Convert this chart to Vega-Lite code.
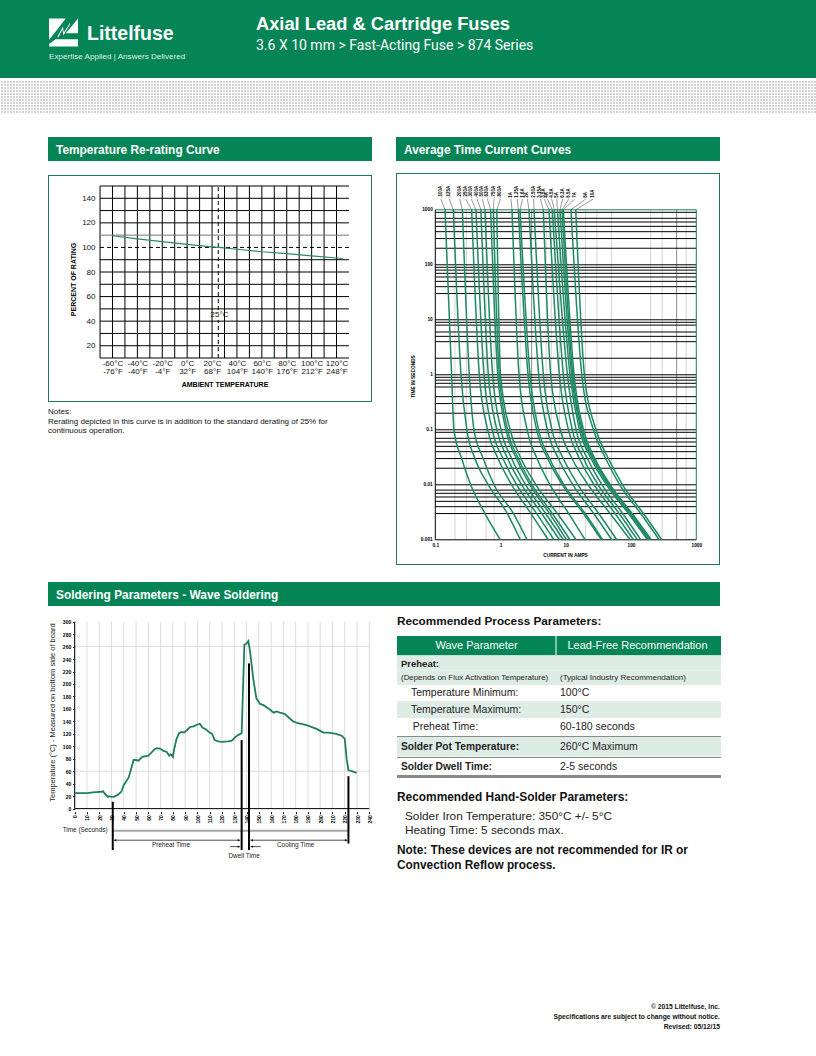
{
"$schema":"https://vega.github.io/schema/vega-lite/v6.json",
"padding":0,"background":"white",
"config":{"view":{"stroke":null},"font":"Liberation Sans","text":{"font":"Liberation Sans"}},
"datasets":{
"curves":[
{"fuse":".100A","t":1000,"amps":0.141},{"fuse":".100A","t":1,"amps":0.178},{"fuse":".100A","t":0.1,"amps":0.193},{"fuse":".100A","t":0.03,"amps":0.2535},{"fuse":".100A","t":0.01,"amps":0.3485},{"fuse":".100A","t":0.003,"amps":0.5775},{"fuse":".100A","t":0.001,"amps":0.993},
{"fuse":".125A","t":1000,"amps":0.189},{"fuse":".125A","t":1,"amps":0.2476},{"fuse":".125A","t":0.1,"amps":0.305},{"fuse":".125A","t":0.03,"amps":0.4055},{"fuse":".125A","t":0.01,"amps":0.65},{"fuse":".125A","t":0.003,"amps":1.27},{"fuse":".125A","t":0.001,"amps":2.01},
{"fuse":".200A","t":1000,"amps":0.26},{"fuse":".200A","t":1,"amps":0.332},{"fuse":".200A","t":0.1,"amps":0.392},{"fuse":".200A","t":0.03,"amps":0.543},{"fuse":".200A","t":0.01,"amps":0.794},{"fuse":".200A","t":0.003,"amps":1.58},{"fuse":".200A","t":0.001,"amps":2.55},
{"fuse":".250A","t":1000,"amps":0.361},{"fuse":".250A","t":1,"amps":0.473},{"fuse":".250A","t":0.1,"amps":0.634},{"fuse":".250A","t":0.03,"amps":0.915},{"fuse":".250A","t":0.01,"amps":1.48},{"fuse":".250A","t":0.003,"amps":2.93},{"fuse":".250A","t":0.001,"amps":5.4},
{"fuse":".300A","t":1000,"amps":0.42},{"fuse":".300A","t":1,"amps":0.558},{"fuse":".300A","t":0.1,"amps":0.747},{"fuse":".300A","t":0.03,"amps":1.09},{"fuse":".300A","t":0.01,"amps":1.77},{"fuse":".300A","t":0.003,"amps":3.58},{"fuse":".300A","t":0.001,"amps":6.6},
{"fuse":".400A","t":1000,"amps":0.5},{"fuse":".400A","t":1,"amps":0.65},{"fuse":".400A","t":0.1,"amps":0.88},{"fuse":".400A","t":0.03,"amps":1.285},{"fuse":".400A","t":0.01,"amps":2.11},{"fuse":".400A","t":0.003,"amps":4.27},{"fuse":".400A","t":0.001,"amps":7.97},
{"fuse":".500A","t":1000,"amps":0.577},{"fuse":".500A","t":1,"amps":0.757},{"fuse":".500A","t":0.1,"amps":1.017},{"fuse":".500A","t":0.03,"amps":1.48},{"fuse":".500A","t":0.01,"amps":2.43},{"fuse":".500A","t":0.003,"amps":4.92},{"fuse":".500A","t":0.001,"amps":9.18},
{"fuse":".630A","t":1000,"amps":0.706},{"fuse":".630A","t":1,"amps":0.907},{"fuse":".630A","t":0.1,"amps":1.21},{"fuse":".630A","t":0.03,"amps":1.75},{"fuse":".630A","t":0.01,"amps":2.83},{"fuse":".630A","t":0.003,"amps":5.65},{"fuse":".630A","t":0.001,"amps":10.3},
{"fuse":".750A","t":1000,"amps":0.775},{"fuse":".750A","t":1,"amps":0.957},{"fuse":".750A","t":0.1,"amps":1.285},{"fuse":".750A","t":0.03,"amps":1.875},{"fuse":".750A","t":0.01,"amps":3.04},{"fuse":".750A","t":0.003,"amps":6.22},{"fuse":".750A","t":0.001,"amps":11.6},
{"fuse":".800A","t":1000,"amps":0.875},{"fuse":".800A","t":1,"amps":1.0},{"fuse":".800A","t":0.1,"amps":1.4},{"fuse":".800A","t":0.03,"amps":2.06},{"fuse":".800A","t":0.01,"amps":3.49},{"fuse":".800A","t":0.003,"amps":7.43},{"fuse":".800A","t":0.001,"amps":14.4},
{"fuse":"1A","t":1000,"amps":1.5},{"fuse":"1A","t":1,"amps":1.92},{"fuse":"1A","t":0.1,"amps":2.55},{"fuse":"1A","t":0.03,"amps":3.63},{"fuse":"1A","t":0.01,"amps":5.73},{"fuse":"1A","t":0.003,"amps":11.1},{"fuse":"1A","t":0.001,"amps":19.8},
{"fuse":"1.25A","t":1000,"amps":1.875},{"fuse":"1.25A","t":1,"amps":2.64},{"fuse":"1.25A","t":0.1,"amps":3.58},{"fuse":"1.25A","t":0.03,"amps":5.27},{"fuse":"1.25A","t":0.01,"amps":8.87},{"fuse":"1.25A","t":0.003,"amps":18.7},{"fuse":"1.25A","t":0.001,"amps":35.2},
{"fuse":"1.6A","t":1000,"amps":1.99},{"fuse":"1.6A","t":1,"amps":2.83},{"fuse":"1.6A","t":0.1,"amps":3.84},{"fuse":"1.6A","t":0.03,"amps":5.65},{"fuse":"1.6A","t":0.01,"amps":9.4},{"fuse":"1.6A","t":0.003,"amps":19.8},{"fuse":"1.6A","t":0.001,"amps":36.9},
{"fuse":"2A","t":1000,"amps":2.73},{"fuse":"2A","t":1,"amps":3.84},{"fuse":"2A","t":0.1,"amps":5.22},{"fuse":"2A","t":0.03,"amps":7.7},{"fuse":"2A","t":0.01,"amps":12.9},{"fuse":"2A","t":0.003,"amps":26.8},{"fuse":"2A","t":0.001,"amps":50.7},
{"fuse":"2.50A","t":1000,"amps":3.26},{"fuse":"2.50A","t":1,"amps":4.53},{"fuse":"2.50A","t":0.1,"amps":6.15},{"fuse":"2.50A","t":0.03,"amps":9.18},{"fuse":"2.50A","t":0.01,"amps":15.4},{"fuse":"2.50A","t":0.003,"amps":32},{"fuse":"2.50A","t":0.001,"amps":60.4},
{"fuse":"3.15A","t":1000,"amps":4.53},{"fuse":"3.15A","t":1,"amps":5.87},{"fuse":"3.15A","t":0.1,"amps":8.25},{"fuse":"3.15A","t":0.03,"amps":12.47},{"fuse":"3.15A","t":0.01,"amps":22},{"fuse":"3.15A","t":0.003,"amps":47.8},{"fuse":"3.15A","t":0.001,"amps":97},
{"fuse":"3.5A","t":1000,"amps":5.53},{"fuse":"3.5A","t":1,"amps":7.97},{"fuse":"3.5A","t":0.1,"amps":10.97},{"fuse":"3.5A","t":0.03,"amps":16.2},{"fuse":"3.5A","t":0.01,"amps":27.2},{"fuse":"3.5A","t":0.003,"amps":57},{"fuse":"3.5A","t":0.001,"amps":109},
{"fuse":"4A","t":1000,"amps":6.22},{"fuse":"4A","t":1,"amps":9.18},{"fuse":"4A","t":0.1,"amps":12.6},{"fuse":"4A","t":0.03,"amps":18.7},{"fuse":"4A","t":0.01,"amps":31.3},{"fuse":"4A","t":0.003,"amps":65.7},{"fuse":"4A","t":0.001,"amps":125},
{"fuse":"4.5A","t":1000,"amps":6.68},{"fuse":"4.5A","t":1,"amps":10.6},{"fuse":"4.5A","t":0.1,"amps":14.4},{"fuse":"4.5A","t":0.03,"amps":21.5},{"fuse":"4.5A","t":0.01,"amps":36},{"fuse":"4.5A","t":0.003,"amps":74.6},{"fuse":"4.5A","t":0.001,"amps":141},
{"fuse":"5A","t":1000,"amps":7.43},{"fuse":"5A","t":1,"amps":11.6},{"fuse":"5A","t":0.1,"amps":16.2},{"fuse":"5A","t":0.03,"amps":24.4},{"fuse":"5A","t":0.01,"amps":42},{"fuse":"5A","t":0.003,"amps":91.3},{"fuse":"5A","t":0.001,"amps":179},
{"fuse":"6.3A","t":1000,"amps":8.15},{"fuse":"6.3A","t":1,"amps":12.3},{"fuse":"6.3A","t":0.1,"amps":17.2},{"fuse":"6.3A","t":0.03,"amps":25.9},{"fuse":"6.3A","t":0.01,"amps":44.5},{"fuse":"6.3A","t":0.003,"amps":96},{"fuse":"6.3A","t":0.001,"amps":187},
{"fuse":"6.5A","t":1000,"amps":8.76},{"fuse":"6.5A","t":1,"amps":12.8},{"fuse":"6.5A","t":0.1,"amps":17.8},{"fuse":"6.5A","t":0.03,"amps":26.8},{"fuse":"6.5A","t":0.01,"amps":46.6},{"fuse":"6.5A","t":0.003,"amps":101},{"fuse":"6.5A","t":0.001,"amps":197},
{"fuse":"7A","t":1000,"amps":9.18},{"fuse":"7A","t":1,"amps":13.4},{"fuse":"7A","t":0.1,"amps":18.7},{"fuse":"7A","t":0.03,"amps":28},{"fuse":"7A","t":0.01,"amps":48.1},{"fuse":"7A","t":0.003,"amps":104},{"fuse":"7A","t":0.001,"amps":204},
{"fuse":"8A","t":1000,"amps":12},{"fuse":"8A","t":1,"amps":17.6},{"fuse":"8A","t":0.1,"amps":26.5},{"fuse":"8A","t":0.03,"amps":40.9},{"fuse":"8A","t":0.01,"amps":67},{"fuse":"8A","t":0.003,"amps":141},{"fuse":"8A","t":0.001,"amps":270},
{"fuse":"10A","t":1000,"amps":14.2},{"fuse":"10A","t":1,"amps":19.3},{"fuse":"10A","t":0.1,"amps":29},{"fuse":"10A","t":0.03,"amps":45},{"fuse":"10A","t":0.01,"amps":74},{"fuse":"10A","t":0.003,"amps":155},{"fuse":"10A","t":0.001,"amps":296}
],
"fuseLabels":[
{"fuse":".100A","label_at":0.1215,"curve_top":0.141},{"fuse":".125A","label_at":0.164,"curve_top":0.189},{"fuse":".200A","label_at":0.237,"curve_top":0.26},{"fuse":".250A","label_at":0.292,"curve_top":0.361},{"fuse":".300A","label_at":0.357,"curve_top":0.42},{"fuse":".400A","label_at":0.436,"curve_top":0.5},{"fuse":".500A","label_at":0.526,"curve_top":0.577},{"fuse":".630A","label_at":0.63,"curve_top":0.706},{"fuse":".750A","label_at":0.795,"curve_top":0.775},{"fuse":".800A","label_at":0.993,"curve_top":0.875},{"fuse":"1A","label_at":1.445,"curve_top":1.5},{"fuse":"1.25A","label_at":1.8,"curve_top":1.875},{"fuse":"1.6A","label_at":2.18,"curve_top":1.99},{"fuse":"2A","label_at":2.58,"curve_top":2.73},{"fuse":"2.50A","label_at":3.22,"curve_top":3.26},{"fuse":"3.15A","label_at":4.08,"curve_top":4.53},{"fuse":"3.5A","label_at":4.66,"curve_top":5.53},{"fuse":"4A","label_at":5.22,"curve_top":6.22},{"fuse":"4.5A","label_at":6.08,"curve_top":6.68},{"fuse":"5A","label_at":7.27,"curve_top":7.43},{"fuse":"6.3A","label_at":8.98,"curve_top":8.15},{"fuse":"6.5A","label_at":11.09,"curve_top":8.76},{"fuse":"7A","label_at":13.7,"curve_top":9.18},{"fuse":"8A","label_at":20.2,"curve_top":12},{"fuse":"10A","label_at":26.4,"curve_top":14.2}
],
"solder":[
{"sec":0,"temp":25},{"sec":10,"temp":25},{"sec":15,"temp":26},{"sec":20,"temp":27},{"sec":22,"temp":27},{"sec":23,"temp":28},{"sec":25,"temp":23},{"sec":27,"temp":19},{"sec":28,"temp":20},{"sec":30,"temp":19},{"sec":32,"temp":19},{"sec":35,"temp":22},{"sec":38,"temp":27},{"sec":40,"temp":38},{"sec":44,"temp":50},{"sec":48,"temp":78},{"sec":50,"temp":78},{"sec":52,"temp":77},{"sec":55,"temp":83},{"sec":60,"temp":85},{"sec":65,"temp":95},{"sec":67,"temp":97},{"sec":70,"temp":96},{"sec":72,"temp":93},{"sec":75,"temp":91},{"sec":77,"temp":85},{"sec":78,"temp":87},{"sec":79,"temp":86},{"sec":80,"temp":83},{"sec":81,"temp":95},{"sec":83,"temp":112},{"sec":85,"temp":121},{"sec":87,"temp":123},{"sec":89,"temp":122},{"sec":92,"temp":127},{"sec":94,"temp":131},{"sec":97,"temp":132},{"sec":100,"temp":135},{"sec":102,"temp":136},{"sec":104,"temp":130},{"sec":107,"temp":127},{"sec":110,"temp":122},{"sec":112,"temp":120},{"sec":114,"temp":110},{"sec":117,"temp":108},{"sec":120,"temp":107},{"sec":125,"temp":108},{"sec":128,"temp":109},{"sec":131,"temp":115},{"sec":133,"temp":118},{"sec":135,"temp":120},{"sec":136,"temp":121},{"sec":137.4,"temp":208},{"sec":138.2,"temp":263},{"sec":140,"temp":265},{"sec":141.5,"temp":269},{"sec":142.8,"temp":253},{"sec":145.5,"temp":208},{"sec":148,"temp":177},{"sec":151,"temp":168},{"sec":153.7,"temp":166},{"sec":156,"temp":163},{"sec":159,"temp":159},{"sec":162,"temp":154},{"sec":164.5,"temp":156},{"sec":167,"temp":154},{"sec":171,"temp":152},{"sec":175,"temp":145},{"sec":178,"temp":140},{"sec":182,"temp":137},{"sec":189,"temp":134},{"sec":197,"temp":128},{"sec":202.6,"temp":122},{"sec":206.6,"temp":122},{"sec":213,"temp":120},{"sec":217.5,"temp":117},{"sec":220,"temp":112},{"sec":221.6,"temp":79},{"sec":223,"temp":62},{"sec":225.6,"temp":60},{"sec":229.7,"temp":57.5}
]
},
"spacing":0,
"vconcat":[
{"spacing":0,"hconcat":[
 {"width":256,"height":78,"view":{"fill":"#058555","stroke":null},"data":{"values":[{"logo":"mark","tagline":"Expertise Applied  |  Answers Delivered","name":"Littelfuse"}]},
  "layer":[
  {"mark":{"type":"point","filled":true,"fill":"white","stroke":null,"opacity":1,"size":841,"shape":"M-1 -.966L.16 -.966L-1 .51Z M1 -.966L1 .057L.16 .057Z M-.55 .47L1 .47L1 .966L-1 .966L-1 .8Z M-.42 .3L-.04 -.42L.02 .0L.44 -.66L.46 -.58L-.01 .2L-.07 -.2L-.36 .34Z"},
   "encoding":{"x":{"datum":63.5,"type":"quantitative","scale":{"domain":[0,256],"nice":false,"zero":false},"axis":null},"y":{"datum":32.5,"type":"quantitative","scale":{"domain":[78,0],"nice":false,"zero":false},"axis":null}}},
  {"mark":{"type":"text","align":"left","baseline":"middle","fontWeight":"bold","fontSize":19.5,"fill":"white"},
   "encoding":{"x":{"datum":87,"type":"quantitative"},"y":{"datum":34,"type":"quantitative"},"text":{"field":"name"}}},
  {"mark":{"type":"text","align":"left","baseline":"middle","fontSize":8.1,"fill":"#dff0e8"},
   "encoding":{"x":{"datum":49,"type":"quantitative"},"y":{"datum":57,"type":"quantitative"},"text":{"field":"tagline"}}}
  ]},
 {"width":560,"height":78,"view":{"fill":"#058555","stroke":null},"data":{"values":[{"title":"Axial Lead & Cartridge Fuses","sub":"3.6 X 10 mm > Fast-Acting Fuse > 874 Series"}]},
  "layer":[
  {"mark":{"type":"text","align":"left","baseline":"middle","fontSize":18.3,"fontWeight":"bold","fill":"white"},
   "encoding":{"x":{"datum":0,"type":"quantitative","scale":{"domain":[0,560],"nice":false,"zero":false},"axis":null},"y":{"datum":25,"type":"quantitative","scale":{"domain":[78,0],"nice":false,"zero":false},"axis":null},"text":{"field":"title"}}},
  {"mark":{"type":"text","align":"left","baseline":"middle","fontSize":14,"font":"Roboto","fill":"white"},
   "encoding":{"x":{"datum":0,"type":"quantitative"},"y":{"datum":46,"type":"quantitative"},"text":{"field":"sub"}}}
  ]}
]},
{"width":816,"height":2,"data":{"values":[]},"mark":{"type":"rect"},"encoding":{}},
{"width":816,"height":33,"view":{"fill":"#d2d2d2","stroke":null},"data":{"values":[]},"mark":{"type":"point"},
 "encoding":{
  "x":{"field":"a","type":"quantitative","scale":{"domain":[0,272],"nice":false,"zero":false},"axis":{"grid":true,"tickCount":272,"labels":false,"ticks":false,"domain":false,"title":null,"gridColor":"white","gridOpacity":1,"gridWidth":1}},
  "y":{"field":"b","type":"quantitative","scale":{"domain":[0,11],"nice":false,"zero":false},"axis":{"grid":true,"tickCount":11,"labels":false,"ticks":false,"domain":false,"title":null,"gridColor":"white","gridOpacity":1,"gridWidth":1}}}},
{"width":816,"height":24,"data":{"values":[]},"mark":{"type":"rect"},"encoding":{}},
{"spacing":0,"hconcat":[
 {"width":48,"height":1,"data":{"values":[]},"mark":{"type":"rect"},"encoding":{}},
 {"spacing":0,"vconcat":[
  {"width":324,"height":24,"view":{"fill":"#058555","stroke":null},"data":{"values":[{"h":"Temperature Re-rating Curve"}]},
   "mark":{"type":"text","align":"left","fontSize":11.9,"fontWeight":"bold","fill":"white","dy":1},
   "encoding":{"x":{"datum":8,"type":"quantitative","scale":{"domain":[0,324],"nice":false,"zero":false},"axis":null},"text":{"field":"h"}}},
  {"width":324,"height":14,"data":{"values":[]},"mark":{"type":"rect"},"encoding":{}},
  {"width":324,"height":227,
   "resolve":{"axis":{"x":"independent","y":"independent"}},
   "layer":[
   {"data":{"values":[{"pct":10},{"pct":20},{"pct":30},{"pct":40},{"pct":50},{"pct":60},{"pct":70},{"pct":80},{"pct":90},{"pct":120},{"pct":130},{"pct":140},{"pct":150}]},
    "mark":{"type":"rule","stroke":"black","strokeWidth":1},
    "encoding":{
     "y":{"field":"pct","type":"quantitative","scale":{"domain":[-25.8,158.95],"nice":false,"zero":false},
      "axis":{"values":[20,40,60,80,100,120,140],"offset":-52,"domain":false,"ticks":false,"grid":false,"labelFontSize":8,"labelColor":"#111","labelPadding":5,"labelOverlap":false,"labelFlush":false,"title":"PERCENT OF RATING","titleFontSize":7,"titleFontWeight":"bold","titleColor":"black","titleX":-24,"titleY":104}},
     "x":{"datum":-70,"type":"quantitative","scale":{"domain":[-111.8,148.5],"nice":false,"zero":false},
      "axis":{"values":[-60,-40,-20,0,20,40,60,80,100,120],"offset":-44,"domain":false,"ticks":false,"grid":false,"labelFontSize":8,"labelColor":"#111","labelPadding":1,"labelLineHeight":8.5,"labelExpr":"[datum.value+'°C',round(datum.value*1.8+32)+'°F']","title":"AMBIENT TEMPERATURE","titleFontSize":7,"titleFontWeight":"bold","titleColor":"black","titleX":176.5,"titleY":22,"labelFlush":false,"labelOverlap":false}},
     "x2":{"datum":130}}},
   {"data":{"values":[{"l":-111.8,"r":-111,"b":-25.8,"top":158.95},{"l":147.7,"r":148.5,"b":-25.8,"top":158.95},{"l":-111.8,"r":148.5,"b":-25.8,"top":-25},{"l":-111.8,"r":148.5,"b":158.15,"top":158.95}]},"mark":{"type":"rect","fill":"#1f7a5c","stroke":null},
    "encoding":{"x":{"field":"l","type":"quantitative","axis":null},"x2":{"field":"r"},"y":{"field":"b","type":"quantitative","axis":null},"y2":{"field":"top"}}},
   {"data":{"values":[{"deg":-70},{"deg":-60},{"deg":-50},{"deg":-40},{"deg":-30},{"deg":-20},{"deg":-10},{"deg":0},{"deg":10},{"deg":20},{"deg":30},{"deg":40},{"deg":50},{"deg":60},{"deg":70},{"deg":80},{"deg":90},{"deg":100},{"deg":110},{"deg":120}]},
    "mark":{"type":"rule","stroke":"black","strokeWidth":1},
    "encoding":{"x":{"field":"deg","type":"quantitative","axis":null},"y":{"datum":10,"type":"quantitative","axis":null},"y2":{"datum":150}}},
   {"data":{"values":[{"pct":110}]},"mark":{"type":"rule","stroke":"#777777","strokeWidth":1},
    "encoding":{"y":{"field":"pct","type":"quantitative","axis":null},"x":{"datum":-70,"type":"quantitative","axis":null},"x2":{"datum":130}}},
   {"data":{"values":[{"pct":100}]},"mark":{"type":"rule","stroke":"black","strokeWidth":1,"strokeDash":[4,3]},
    "encoding":{"y":{"field":"pct","type":"quantitative","axis":null},"x":{"datum":-70,"type":"quantitative","axis":null},"x2":{"datum":130}}},
   {"data":{"values":[{"deg":25,"low":10,"high":41},{"deg":25,"low":49,"high":150}]},"mark":{"type":"rule","stroke":"black","strokeWidth":1,"strokeDash":[4,3]},
    "encoding":{"x":{"field":"deg","type":"quantitative","axis":null},"y":{"field":"low","type":"quantitative","axis":null},"y2":{"field":"high"}}},
   {"data":{"values":[{"deg":-60,"pct":109.5},{"deg":-40,"pct":107},{"deg":-20,"pct":104.7},{"deg":0,"pct":102.5},{"deg":20,"pct":100.5},{"deg":25,"pct":100},{"deg":40,"pct":98.5},{"deg":60,"pct":96.5},{"deg":80,"pct":95},{"deg":100,"pct":93.2},{"deg":125,"pct":91}]},
    "mark":{"type":"line","stroke":"#2a8a68","strokeWidth":1.2},
    "encoding":{"x":{"field":"deg","type":"quantitative","axis":null},"y":{"field":"pct","type":"quantitative","axis":null}}},
   {"data":{"values":[{"deg":26,"pct":45,"txt":"25°C"}]},"mark":{"type":"text","fontSize":8,"fill":"#111"},
    "encoding":{"x":{"field":"deg","type":"quantitative","axis":null},"y":{"field":"pct","type":"quantitative","axis":null},"text":{"field":"txt"}}}
   ]},
  {"width":324,"height":5,"data":{"values":[]},"mark":{"type":"rect"},"encoding":{}},
  {"width":324,"height":29,"data":{"values":[{"line":1,"txt":"Notes:"},{"line":2,"txt":"Rerating depicted in this curve is in addition to the standard derating of 25% for"},{"line":3,"txt":"continuous operation."}]},
   "mark":{"type":"text","align":"left","fontSize":8,"fill":"#111"},
   "encoding":{"x":{"datum":0,"type":"quantitative","scale":{"domain":[0,324],"nice":false,"zero":false},"axis":null},"y":{"field":"line","type":"ordinal","axis":null,"scale":{"type":"point","padding":0.5}},"text":{"field":"txt"}}}
 ]},
 {"width":24,"height":1,"data":{"values":[]},"mark":{"type":"rect"},"encoding":{}},
 {"spacing":0,"vconcat":[
  {"width":324,"height":24,"view":{"fill":"#058555","stroke":null},"data":{"values":[{"h":"Average Time Current Curves"}]},
   "mark":{"type":"text","align":"left","fontSize":11.9,"fontWeight":"bold","fill":"white","dy":1},
   "encoding":{"x":{"datum":8,"type":"quantitative","scale":{"domain":[0,324],"nice":false,"zero":false},"axis":null},"text":{"field":"h"}}},
  {"width":324,"height":11.5,"data":{"values":[]},"mark":{"type":"rect"},"encoding":{}},
  {"width":324,"height":392,
   "resolve":{"axis":{"x":"independent","y":"independent"}},
   "layer":[
   {"data":{"values":[{"amps":0.2},{"amps":0.3},{"amps":0.6},{"amps":0.8},{"amps":2},{"amps":5},{"amps":6},{"amps":8},{"amps":20},{"amps":30},{"amps":50},{"amps":200},{"amps":300},{"amps":700}]},
    "mark":{"type":"rule","stroke":"#d4d4d4","strokeWidth":1},
    "encoding":{
     "x":{"field":"amps","type":"quantitative","scale":{"type":"log","domain":[0.025,2309],"nice":false},
      "axis":{"values":[0.1,1,10,100,1000],"format":"~g","offset":-25.2,"domain":false,"ticks":false,"grid":false,"labelFontSize":4.8,"labelFontWeight":"bold","labelColor":"black","labelPadding":3,"labelFlush":false,"labelOverlap":false,"title":"CURRENT IN AMPS","titleFontSize":4.8,"titleFontWeight":"bold","titleColor":"black","titleX":169,"titleY":13}},
     "y":{"datum":0.001,"type":"quantitative","scale":{"type":"log","domain":[0.000348,4667],"nice":false},
      "axis":{"values":[0.001,0.01,0.1,1,10,100,1000],"format":"~g","offset":-39.3,"domain":false,"ticks":false,"grid":false,"labelFontSize":4.8,"labelFontWeight":"bold","labelColor":"black","labelPadding":3,"labelOverlap":false,"labelFlush":false,"title":"TIME IN SECONDS","titleFontSize":4.8,"titleFontWeight":"bold","titleColor":"black","titleX":-19.5,"titleY":203}},
     "y2":{"datum":1000}}},
   {"data":{"values":[{"l":0.025,"r":0.0259,"b":0.000348,"top":4667},{"l":2229,"r":2309,"b":0.000348,"top":4667},{"l":0.025,"r":2309,"b":0.000348,"top":0.000363},{"l":0.025,"r":2309,"b":4475,"top":4667}]},"mark":{"type":"rect","fill":"#1f7a5c","stroke":null},
    "encoding":{"x":{"field":"l","type":"quantitative","axis":null},"x2":{"field":"r"},"y":{"field":"b","type":"quantitative","axis":null},"y2":{"field":"top"}}},
   {"data":{"values":[{"amps":3},{"amps":500}]},"mark":{"type":"rule","stroke":"#8c8c8c","strokeWidth":1},
    "encoding":{"x":{"field":"amps","type":"quantitative","axis":null},"y":{"datum":0.001,"type":"quantitative","axis":null},"y2":{"datum":1000}}},
   {"data":{"values":[{"t":900},{"t":700},{"t":600},{"t":500},{"t":400},{"t":300},{"t":200},{"t":100},{"t":90},{"t":80},{"t":70},{"t":60},{"t":50},{"t":40},{"t":30},{"t":10},{"t":9},{"t":8},{"t":6},{"t":5},{"t":4},{"t":2},{"t":1},{"t":0.9},{"t":0.8},{"t":0.7},{"t":0.6},{"t":0.4},{"t":0.3},{"t":0.2},{"t":0.1},{"t":0.09},{"t":0.07},{"t":0.06},{"t":0.05},{"t":0.04},{"t":0.03},{"t":0.02},{"t":0.01},{"t":0.008},{"t":0.007},{"t":0.006},{"t":0.005},{"t":0.004},{"t":0.003},{"t":0.001}]},
    "mark":{"type":"rule","stroke":"black","strokeWidth":1},
    "encoding":{"y":{"field":"t","type":"quantitative","axis":null},"x":{"datum":0.1,"type":"quantitative","axis":null},"x2":{"datum":1000}}},
   {"data":{"values":[{"amps":0.1}]},"mark":{"type":"rule","stroke":"black","strokeWidth":1},
    "encoding":{"x":{"field":"amps","type":"quantitative","axis":null},"y":{"datum":0.001,"type":"quantitative","axis":null},"y2":{"datum":1000}}},
   {"data":{"values":[{"amps":1000}]},"mark":{"type":"rule","stroke":"#1f7a5c","strokeWidth":1},
    "encoding":{"x":{"field":"amps","type":"quantitative","axis":null},"y":{"datum":0.001,"type":"quantitative","axis":null},"y2":{"datum":1000}}},
   {"data":{"values":[{"t":1000}]},"mark":{"type":"rule","stroke":"#1f7a5c","strokeWidth":1},
    "encoding":{"y":{"field":"t","type":"quantitative","axis":null},"x":{"datum":0.1,"type":"quantitative","axis":null},"x2":{"datum":1000}}},
   {"data":{"name":"curves"},"mark":{"type":"line","stroke":"#1f8a62","strokeWidth":1.5,"interpolate":"monotone"},
    "encoding":{"x":{"field":"amps","type":"quantitative","axis":null},"y":{"field":"t","type":"quantitative","axis":null},"detail":{"field":"fuse"}}},
   {"data":{"name":"fuseLabels"},"mark":{"type":"rule","stroke":"#333","strokeWidth":0.5},
    "encoding":{"x":{"field":"label_at","type":"quantitative","axis":null},"x2":{"field":"curve_top"},"y":{"datum":1572,"type":"quantitative","axis":null},"y2":{"datum":1000}}},
   {"data":{"name":"fuseLabels"},"mark":{"type":"text","angle":270,"align":"left","baseline":"middle","fontSize":4.5,"fontWeight":"bold","fill":"black"},
    "encoding":{"x":{"field":"label_at","type":"quantitative","axis":null},"y":{"datum":1650,"type":"quantitative","axis":null},"text":{"field":"fuse"}}}
   ]}
 ]},
 {"width":96,"height":1,"data":{"values":[]},"mark":{"type":"rect"},"encoding":{}}
]},
{"width":816,"height":17,"data":{"values":[]},"mark":{"type":"rect"},"encoding":{}},
{"spacing":0,"hconcat":[
 {"width":48,"height":1,"data":{"values":[]},"mark":{"type":"rect"},"encoding":{}},
 {"width":672,"height":24,"view":{"fill":"#058555","stroke":null},"data":{"values":[{"h":"Soldering Parameters - Wave Soldering"}]},
  "mark":{"type":"text","align":"left","fontSize":11.9,"fontWeight":"bold","fill":"white","dy":1},
  "encoding":{"x":{"datum":8,"type":"quantitative","scale":{"domain":[0,672],"nice":false,"zero":false},"axis":null},"text":{"field":"h"}}}
]},
{"width":816,"height":6,"data":{"values":[]},"mark":{"type":"rect"},"encoding":{}},
{"spacing":0,"hconcat":[
 {"width":40,"height":1,"data":{"values":[]},"mark":{"type":"rect"},"encoding":{}},
 {"width":332,"height":258,
  "resolve":{"axis":{"x":"independent","y":"independent"}},
  "layer":[
  {"data":{"values":[{"sec":0},{"sec":10},{"sec":20},{"sec":30},{"sec":40},{"sec":50},{"sec":60},{"sec":70},{"sec":80},{"sec":90},{"sec":100},{"sec":110},{"sec":120},{"sec":130},{"sec":140},{"sec":150},{"sec":160},{"sec":170},{"sec":180},{"sec":190},{"sec":200},{"sec":210},{"sec":220},{"sec":230},{"sec":240}]},
   "mark":{"type":"rule","stroke":"#dcdcdc","strokeWidth":1},
   "encoding":{
    "x":{"field":"sec","type":"quantitative","scale":{"domain":[-28.26,242.2],"nice":false,"zero":false},
     "axis":{"values":[0,10,20,30,40,50,60,70,80,90,100,110,120,130,140,150,160,170,180,190,200,210,220,230,240],"offset":-58.3,"domain":false,"tickSize":2,"tickColor":"black","grid":false,"labelAngle":270,"labelAlign":"right","labelBaseline":"middle","labelFontSize":5,"labelFontWeight":"bold","labelColor":"black","labelPadding":1,"labelOverlap":false,"labelFlush":false,"title":null}},
    "y":{"datum":0,"type":"quantitative","scale":{"domain":[-98.5,315.5],"nice":false,"zero":false},
     "axis":{"values":[0,20,40,60,80,100,120,140,160,180,200,220,240,260,280,300],"offset":-34.7,"domain":false,"tickSize":2,"tickColor":"black","grid":false,"labelFontSize":5,"labelFontWeight":"bold","labelColor":"black","labelPadding":2,"labelOverlap":false,"labelFlush":false,"title":"Temperature (°C) - Measured on bottom side of board","titleFontSize":7.5,"titleFontWeight":"normal","titleColor":"#222","titleX":-18.2,"titleY":100}},
    "y2":{"datum":300}}},
  {"data":{"values":[{"temp":60},{"temp":260}]},"mark":{"type":"rule","stroke":"#dcdcdc","strokeWidth":1},
   "encoding":{"y":{"field":"temp","type":"quantitative","axis":null},"x":{"datum":0,"type":"quantitative","axis":null},"x2":{"datum":240}}},
  {"data":{"values":[{"sec":0}]},"mark":{"type":"rule","stroke":"black","strokeWidth":1},
   "encoding":{"x":{"field":"sec","type":"quantitative","axis":null},"y":{"datum":0,"type":"quantitative","axis":null},"y2":{"datum":300}}},
  {"data":{"values":[{"temp":0}]},"mark":{"type":"rule","stroke":"black","strokeWidth":1},
   "encoding":{"y":{"field":"temp","type":"quantitative","axis":null},"x":{"datum":0,"type":"quantitative","axis":null},"x2":{"datum":240}}},
  {"data":{"values":[{"sec":31,"temp":-35.5,"end":223}]},"mark":{"type":"rule","stroke":"#a6a6a6","strokeWidth":2},
   "encoding":{"x":{"field":"sec","type":"quantitative","axis":null},"x2":{"field":"end"},"y":{"field":"temp","type":"quantitative","axis":null}}},
  {"data":{"name":"solder"},"mark":{"type":"line","stroke":"#1f7f58","strokeWidth":1.8},
   "encoding":{"x":{"field":"sec","type":"quantitative","axis":null},"y":{"field":"temp","type":"quantitative","axis":null}}},
  {"data":{"values":[{"sec":31,"top":11,"low":-66.4},{"sec":136,"top":110,"low":-66.4},{"sec":142,"top":233,"low":-66.4},{"sec":223,"top":52,"low":-56}]},"mark":{"type":"rule","stroke":"black","strokeWidth":2},
   "encoding":{"x":{"field":"sec","type":"quantitative","axis":null},"y":{"field":"top","type":"quantitative","axis":null},"y2":{"field":"low"}}},
  {"data":{"values":[{"sec":32,"end":134.7,"temp":-50.7},{"sec":143.3,"end":222,"temp":-50.7},{"sec":126.5,"end":134.7,"temp":-61},{"sec":143.3,"end":151.5,"temp":-61}]},"mark":{"type":"rule","stroke":"black","strokeWidth":0.7},
   "encoding":{"x":{"field":"sec","type":"quantitative","axis":null},"x2":{"field":"end"},"y":{"field":"temp","type":"quantitative","axis":null}}},
  {"data":{"values":[{"sec":33,"temp":-50.7},{"sec":144.3,"temp":-50.7},{"sec":144.3,"temp":-61}]},"mark":{"type":"point","shape":"triangle-left","filled":true,"fill":"black","stroke":null,"opacity":1,"size":6},
   "encoding":{"x":{"field":"sec","type":"quantitative","axis":null},"y":{"field":"temp","type":"quantitative","axis":null}}},
  {"data":{"values":[{"sec":133.7,"temp":-50.7},{"sec":221,"temp":-50.7},{"sec":133.7,"temp":-61}]},"mark":{"type":"point","shape":"triangle-right","filled":true,"fill":"black","stroke":null,"opacity":1,"size":6},
   "encoding":{"x":{"field":"sec","type":"quantitative","axis":null},"y":{"field":"temp","type":"quantitative","axis":null}}},
  {"data":{"values":[{"sec":-9.8,"temp":-33.8,"txt":"Time (Seconds)"}]},"mark":{"type":"text","align":"left","fontSize":6.4,"fill":"#222"},
   "encoding":{"x":{"field":"sec","type":"quantitative","axis":null},"y":{"field":"temp","type":"quantitative","axis":null},"text":{"field":"txt"}}},
  {"data":{"values":[{"sec":78.4,"temp":-59,"txt":"Preheat Time"},{"sec":180,"temp":-59,"txt":"Cooling Time"},{"sec":138,"temp":-76,"txt":"Dwell Time"}]},"mark":{"type":"text","align":"center","fontSize":6.4,"fill":"#222"},
   "encoding":{"x":{"field":"sec","type":"quantitative","axis":null},"y":{"field":"temp","type":"quantitative","axis":null},"text":{"field":"txt"}}}
  ]},
 {"width":24,"height":1,"data":{"values":[]},"mark":{"type":"rect"},"encoding":{}},
 {"spacing":0,"vconcat":[
  {"width":324,"height":18,"data":{"values":[{"a":"Recommended Process Parameters:"}]},"mark":{"type":"text","align":"left","fontSize":11.75,"fontWeight":"bold","fill":"#111"},
   "encoding":{"x":{"datum":0,"type":"quantitative","scale":{"domain":[0,324],"nice":false,"zero":false},"axis":null},"text":{"field":"a"}}},
  {"width":324,"height":5,"data":{"values":[]},"mark":{"type":"rect"},"encoding":{}},
  {"width":324,"height":19.3,"view":{"fill":"#058555","stroke":null},"data":{"values":[{"a":"Wave Parameter","b":"Lead-Free Recommendation"}]},
   "layer":[
   {"mark":{"type":"rule","stroke":"white","strokeWidth":1},"encoding":{"x":{"datum":159,"type":"quantitative","scale":{"domain":[0,324],"nice":false,"zero":false},"axis":null}}},
   {"mark":{"type":"text","align":"center","fontSize":11,"fill":"white"},"encoding":{"x":{"datum":79.5,"type":"quantitative"},"text":{"field":"a"}}},
   {"mark":{"type":"text","align":"center","fontSize":11,"fill":"white"},"encoding":{"x":{"datum":240.5,"type":"quantitative"},"text":{"field":"b"}}}
   ]},
  {"width":324,"height":14.7,"view":{"fill":"#deece6","stroke":null},"data":{"values":[{"a":"Preheat:"}]},"mark":{"type":"text","align":"left","fontSize":9.5,"fontWeight":"bold","fill":"#222","dy":1},
   "encoding":{"x":{"datum":4,"type":"quantitative","scale":{"domain":[0,324],"nice":false,"zero":false},"axis":null},"text":{"field":"a"}}},
  {"width":324,"height":14,"view":{"fill":"#deece6","stroke":null},"data":{"values":[{"a":"(Depends on Flux Activation Temperature)","b":"(Typical Industry Recommendation)"}]},
   "layer":[
   {"mark":{"type":"text","align":"left","fontSize":7.9,"fill":"#222"},"encoding":{"x":{"datum":4,"type":"quantitative","scale":{"domain":[0,324],"nice":false,"zero":false},"axis":null},"text":{"field":"a"}}},
   {"mark":{"type":"text","align":"left","fontSize":8,"fill":"#222"},"encoding":{"x":{"datum":163,"type":"quantitative"},"text":{"field":"b"}}}
   ]},
  {"width":324,"height":16,"data":{"values":[{"a":"Temperature Minimum:","b":"100°C"}]},
   "layer":[
   {"mark":{"type":"text","align":"left","fontSize":10.5,"fill":"#222"},"encoding":{"x":{"datum":14,"type":"quantitative","scale":{"domain":[0,324],"nice":false,"zero":false},"axis":null},"text":{"field":"a"}}},
   {"mark":{"type":"text","align":"left","fontSize":10.5,"fill":"#222"},"encoding":{"x":{"datum":163,"type":"quantitative"},"text":{"field":"b"}}}
   ]},
  {"width":324,"height":17,"view":{"fill":"#deece6","stroke":null},"data":{"values":[{"a":"Temperature Maximum:","b":"150°C"}]},
   "layer":[
   {"mark":{"type":"text","align":"left","fontSize":10.5,"fill":"#222"},"encoding":{"x":{"datum":14,"type":"quantitative","scale":{"domain":[0,324],"nice":false,"zero":false},"axis":null},"text":{"field":"a"}}},
   {"mark":{"type":"text","align":"left","fontSize":10.5,"fill":"#222"},"encoding":{"x":{"datum":163,"type":"quantitative"},"text":{"field":"b"}}}
   ]},
  {"width":324,"height":18,"data":{"values":[{"a":"Preheat Time:","b":"60-180 seconds"}]},
   "layer":[
   {"mark":{"type":"text","align":"left","fontSize":10.5,"fill":"#222"},"encoding":{"x":{"datum":15.7,"type":"quantitative","scale":{"domain":[0,324],"nice":false,"zero":false},"axis":null},"text":{"field":"a"}}},
   {"mark":{"type":"text","align":"left","fontSize":10.5,"fill":"#222"},"encoding":{"x":{"datum":163,"type":"quantitative"},"text":{"field":"b"}}}
   ]},
  {"width":324,"height":1,"view":{"fill":"#8a8a8a","stroke":null},"data":{"values":[]},"mark":{"type":"rect"},"encoding":{}},
  {"width":324,"height":19.5,"view":{"fill":"#deece6","stroke":null},"data":{"values":[{"a":"Solder Pot Temperature:","b":"260°C Maximum"}]},
   "layer":[
   {"mark":{"type":"text","align":"left","fontSize":10.2,"fontWeight":"bold","fill":"#222"},"encoding":{"x":{"datum":4,"type":"quantitative","scale":{"domain":[0,324],"nice":false,"zero":false},"axis":null},"text":{"field":"a"}}},
   {"mark":{"type":"text","align":"left","fontSize":10.5,"fill":"#222"},"encoding":{"x":{"datum":163,"type":"quantitative"},"text":{"field":"b"}}}
   ]},
  {"width":324,"height":1,"view":{"fill":"#8a8a8a","stroke":null},"data":{"values":[]},"mark":{"type":"rect"},"encoding":{}},
  {"width":324,"height":17,"data":{"values":[{"a":"Solder Dwell Time:","b":"2-5 seconds"}]},
   "layer":[
   {"mark":{"type":"text","align":"left","fontSize":10.2,"fontWeight":"bold","fill":"#222"},"encoding":{"x":{"datum":4,"type":"quantitative","scale":{"domain":[0,324],"nice":false,"zero":false},"axis":null},"text":{"field":"a"}}},
   {"mark":{"type":"text","align":"left","fontSize":10.5,"fill":"#222"},"encoding":{"x":{"datum":163,"type":"quantitative"},"text":{"field":"b"}}}
   ]},
  {"width":324,"height":3,"view":{"fill":"#8a8a8a","stroke":null},"data":{"values":[]},"mark":{"type":"rect"},"encoding":{}},
  {"width":324,"height":11,"data":{"values":[]},"mark":{"type":"rect"},"encoding":{}},
  {"width":324,"height":15,"data":{"values":[{"a":"Recommended Hand-Solder Parameters:"}]},"mark":{"type":"text","align":"left","fontSize":11.9,"fontWeight":"bold","fill":"#111"},
   "encoding":{"x":{"datum":0,"type":"quantitative","scale":{"domain":[0,324],"nice":false,"zero":false},"axis":null},"text":{"field":"a"}}},
  {"width":324,"height":4.2,"data":{"values":[]},"mark":{"type":"rect"},"encoding":{}},
  {"width":324,"height":14,"data":{"values":[{"a":"Solder Iron Temperature: 350°C +/- 5°C"}]},"mark":{"type":"text","align":"left","fontSize":11.8,"fill":"#222"},
   "encoding":{"x":{"datum":8,"type":"quantitative","scale":{"domain":[0,324],"nice":false,"zero":false},"axis":null},"text":{"field":"a"}}},
  {"width":324,"height":14,"data":{"values":[{"a":"Heating Time: 5 seconds max."}]},"mark":{"type":"text","align":"left","fontSize":11.8,"fill":"#222"},
   "encoding":{"x":{"datum":8,"type":"quantitative","scale":{"domain":[0,324],"nice":false,"zero":false},"axis":null},"text":{"field":"a"}}},
  {"width":324,"height":5.3,"data":{"values":[]},"mark":{"type":"rect"},"encoding":{}},
  {"width":324,"height":14,"data":{"values":[{"a":"Note: These devices are not recommended for IR or"}]},"mark":{"type":"text","align":"left","fontSize":11.85,"fontWeight":"bold","fill":"#111"},
   "encoding":{"x":{"datum":0,"type":"quantitative","scale":{"domain":[0,324],"nice":false,"zero":false},"axis":null},"text":{"field":"a"}}},
  {"width":324,"height":15,"data":{"values":[{"a":"Convection Reflow process."}]},"mark":{"type":"text","align":"left","fontSize":11.85,"fontWeight":"bold","fill":"#111"},
   "encoding":{"x":{"datum":0,"type":"quantitative","scale":{"domain":[0,324],"nice":false,"zero":false},"axis":null},"text":{"field":"a"}}}
 ]}
]},
{"width":816,"height":130,"data":{"values":[]},"mark":{"type":"rect"},"encoding":{}},
{"spacing":0,"hconcat":[
 {"width":48,"height":1,"data":{"values":[]},"mark":{"type":"rect"},"encoding":{}},
 {"width":672,"height":30,"data":{"values":[{"line":1,"txt":"© 2015 Littelfuse, Inc."},{"line":2,"txt":"Specifications are subject to change without notice."},{"line":3,"txt":"Revised: 05/12/15"}]},
  "mark":{"type":"text","align":"right","fontSize":6.75,"fontWeight":"bold","fill":"#111"},
  "encoding":{"x":{"datum":672,"type":"quantitative","scale":{"domain":[0,672],"nice":false,"zero":false},"axis":null},"y":{"field":"line","type":"ordinal","axis":null,"scale":{"type":"point","padding":0.5}},"text":{"field":"txt"}}}
]}
]
}
